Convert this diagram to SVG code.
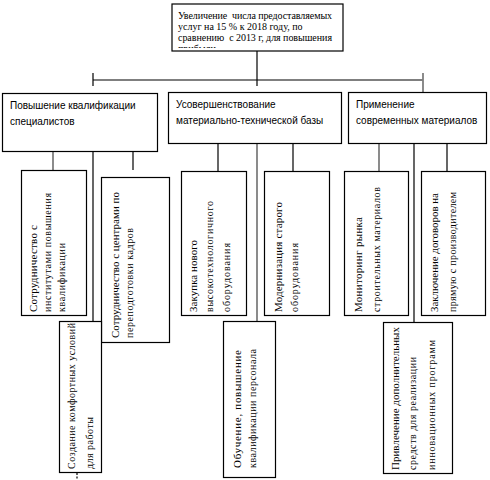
<svg xmlns="http://www.w3.org/2000/svg" width="490" height="480" viewBox="0 0 490 480">
<style>
.box{fill:#fff;stroke:#000;stroke-width:1.2}
.ln{stroke:#000;stroke-width:1.2;fill:none}
.gr{stroke:#7f7f7f;stroke-width:1.8;fill:none}
.t{font-family:"Liberation Serif","Times New Roman",serif;font-size:10px;fill:#000;white-space:pre}
.v{font-family:"Liberation Serif","Times New Roman",serif;font-size:10px;fill:#000}
.v1{font-size:11px}
.s{font-family:"Liberation Sans",Arial,sans-serif;font-size:10px;fill:#000}
</style>
<defs>
<clipPath id="topclip"><rect x="172" y="4" width="171" height="44"/></clipPath>
</defs>
<rect width="490" height="480" fill="#fff"/>
<g id="connectors">
<line class="ln" x1="257" y1="51" x2="257" y2="86"/>
<line class="ln" x1="93" y1="80" x2="423" y2="80"/>
<line class="ln" x1="93" y1="73" x2="93" y2="86"/>
<line class="gr" x1="423" y1="73" x2="423" y2="92"/>
<line class="gr" x1="53" y1="151" x2="53" y2="170"/>
<line class="ln" x1="93" y1="151" x2="93" y2="321"/>
<line class="ln" x1="133" y1="151" x2="133" y2="170"/>
<line class="ln" x1="218" y1="143" x2="218" y2="171"/>
<line class="gr" x1="257" y1="143" x2="257" y2="321"/>
<line class="ln" x1="293" y1="143" x2="293" y2="171"/>
<line class="gr" x1="379" y1="143" x2="379" y2="171"/>
<line class="ln" x1="414" y1="143" x2="414" y2="322"/>
<line class="ln" x1="447" y1="143" x2="447" y2="171"/>
<line class="ln" x1="77" y1="473" x2="77" y2="480" stroke-dasharray="2,1.5"/>
</g>
<g id="top">
<rect class="box" x="172" y="4" width="171" height="47"/>
<g clip-path="url(#topclip)">
<text class="t" x="178" y="19" textLength="154">Увеличение  числа предоставляемых</text>
<text class="t" x="178" y="30">услуг на 15 % к 2018 году, по</text>
<text class="t" x="178" y="41" textLength="154">сравнению  с 2013 г, для повышения</text>
<text class="t" x="178" y="52">прибыли</text>
</g>
</g>
<g id="b1">
<rect class="box" x="2.5" y="93.5" width="155" height="58"/>
<text class="s" x="10" y="108.5">Повышение квалификации</text>
<text class="s" x="10" y="125">специалистов</text>
</g>
<g id="b2">
<rect class="box" x="168.5" y="92.5" width="173" height="51"/>
<text class="s" x="176" y="107.5">Усовершенствование</text>
<text class="s" x="176" y="123.5">материально-технической базы</text>
</g>
<g id="b3">
<rect class="box" x="348.5" y="92.5" width="138" height="51"/>
<text class="s" x="356" y="107.5">Применение</text>
<text class="s" x="356" y="123.5">современных материалов</text>
</g>
<g id="nA">
<rect class="box" x="21.5" y="170.5" width="65" height="145"/>
<text class="v v1" transform="translate(37,312) rotate(-90)" textLength="87">Сотрудничество с</text>
<text class="v" transform="translate(51,312) rotate(-90)" textLength="119">институтами повышения</text>
<text class="v" transform="translate(65,312) rotate(-90)" textLength="69">квалификации</text>
</g>
<g id="nB">
<rect class="box" x="101.5" y="177.5" width="68" height="165"/>
<text class="v v1" transform="translate(119,338) rotate(-90)" textLength="146">Сотрудничество с центрами по</text>
<text class="v" transform="translate(133,338) rotate(-90)" textLength="110">переподготовки кадров</text>
</g>
<g id="nC">
<rect class="box" x="59.5" y="321.5" width="42" height="151"/>
<text class="v" transform="translate(75,469) rotate(-90)" textLength="146">Создание комфортных условий</text>
<text class="v" transform="translate(93,469) rotate(-90)" textLength="52">для работы</text>
</g>
<g id="nD">
<rect class="box" x="181.5" y="171.5" width="65" height="144"/>
<text class="v v1" transform="translate(197,312) rotate(-90)" textLength="72">Закупка нового</text>
<text class="v" transform="translate(213,312) rotate(-90)" textLength="111">высокотехнологичного</text>
<text class="v" transform="translate(230,312) rotate(-90)" textLength="69">оборудования</text>
</g>
<g id="nE">
<rect class="box" x="264.5" y="171.5" width="65" height="144"/>
<text class="v v1" transform="translate(282,312) rotate(-90)" textLength="110">Модернизация старого</text>
<text class="v" transform="translate(298,312) rotate(-90)" textLength="69">оборудования</text>
</g>
<g id="nF">
<rect class="box" x="223.5" y="321.5" width="52" height="156"/>
<text class="v v1" transform="translate(241,468) rotate(-90)" textLength="118">Обучение, повышение</text>
<text class="v" transform="translate(256,468) rotate(-90)" textLength="119">квалификации персонала</text>
</g>
<g id="nG">
<rect class="box" x="344.5" y="171.5" width="64" height="144"/>
<text class="v v1" transform="translate(362,312) rotate(-90)" textLength="95">Мониторинг рынка</text>
<text class="v" transform="translate(380,312) rotate(-90)" textLength="125">строительных материалов</text>
</g>
<g id="nH">
<rect class="box" x="421.5" y="171.5" width="64" height="144"/>
<text class="v v1" transform="translate(438,312) rotate(-90)" textLength="119">Заключение договоров на</text>
<text class="v" transform="translate(456,312) rotate(-90)" textLength="120">прямую с производителем</text>
</g>
<g id="nI">
<rect class="box" x="383.5" y="322.5" width="69" height="151"/>
<text class="v v1" transform="translate(399,470) rotate(-90)" textLength="143">Привлечение дополнительных</text>
<text class="v" transform="translate(416,470) rotate(-90)" textLength="113">средств для реализации</text>
<text class="v" transform="translate(435,470) rotate(-90)" textLength="130">инновационных программ</text>
</g>
</svg>
